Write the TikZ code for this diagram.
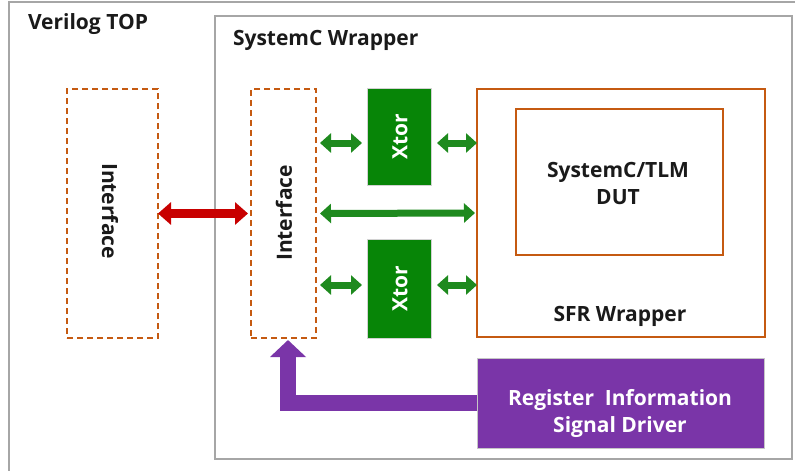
\documentclass[tikz,border=0pt]{standalone}
\usepackage{fontspec}
\setmainfont{Open Sans}
\usetikzlibrary{arrows.meta}
\definecolor{gframe}{HTML}{A6A6A6}
\definecolor{rust}{HTML}{C55A11}
\definecolor{xgreen}{HTML}{078507}
\definecolor{agreen}{HTML}{1E8A1E}
\definecolor{ared}{HTML}{C80000}
\definecolor{purp}{HTML}{7A35A8}
\definecolor{ink}{HTML}{1A1A1A}
\begin{document}
\begin{tikzpicture}[x=1pt,y=-1pt,
  every node/.style={font=\fontsize{21}{27}\selectfont\bfseries, text=ink, inner sep=0pt, outer sep=0pt},
  frame/.style={draw=gframe, line width=2pt, rectangle},
  dashbox/.style={draw=rust, line width=1.6pt, dash pattern=on 6pt off 4pt, rectangle},
  rustbox/.style={draw=rust, line width=1.8pt, rectangle},
  xtorbox/.style={fill=xgreen, draw=gray!35, line width=1pt, rectangle},
  regbox/.style={fill=purp, draw=gray!45, line width=1pt, rectangle},
  wtext/.style={text=white},
  garr/.style={draw=agreen, line width=7pt, {Triangle[width=19pt,length=11pt]}-{Triangle[width=19pt,length=11pt]}},
  rarr/.style={draw=ared, line width=9pt, {Triangle[width=22pt,length=13pt]}-{Triangle[width=22pt,length=13pt]}},
  parr/.style={draw=purp, line width=16pt, line join=miter, -{Triangle[width=35pt,length=17pt]}}
]
\useasboundingbox (0,0) rectangle (795,471);
\clip (0,0) rectangle (795,471);
\fill[white] (0,0) rectangle (795,471);

% frames
\node[frame, minimum width=796pt, minimum height=483pt] (top) at (407,243.5) {};
\node[anchor=west] (toplbl) at (28,24) {Verilog TOP};
\node[frame, minimum width=577pt, minimum height=443pt] (scw) at (503.5,237.5) {};
\node[anchor=west] (scwlbl) at (233,40) {SystemC Wrapper};

% interfaces
\node[dashbox, minimum width=91pt, minimum height=249pt] (lif) at (112.5,213.5) {};
\node[rotate=-90] (liftxt) at (110,211) {Interface};
\node[dashbox, minimum width=65pt, minimum height=249pt] (rif) at (283.5,213.5) {};
\node[rotate=90] (riftxt) at (284,213) {Interface};

% xtors
\node[xtorbox, minimum width=64pt, minimum height=97pt] (xt1) at (399,136.5) {};
\node[wtext, rotate=90] (xt1txt) at (400,137) {Xtor};
\node[xtorbox, minimum width=64pt, minimum height=99pt] (xt2) at (399,288.5) {};
\node[wtext, rotate=90] (xt2txt) at (400,289) {Xtor};

% SFR wrapper and DUT
\node[rustbox, minimum width=288pt, minimum height=248pt] (sfr) at (621,213) {};
\node (sfrtxt) at (620,316) {SFR Wrapper};
\node[rustbox, line width=1.5pt, minimum width=207pt, minimum height=146pt] (dut) at (619.5,182) {};
\node[align=center] (duttxt) at (618,183) {SystemC/TLM\\DUT};

% register driver
\node[regbox, minimum width=287pt, minimum height=90pt] (reg) at (620.5,403) {};
\node[wtext, align=center] (regtxt) at (620,413) {Register~ Information\\Signal Driver};

% connectors
\draw[rarr, shorten <=0pt, shorten >=3pt] (lif.east) -- (rif.west);
\draw[garr, shorten <=4pt, shorten >=5pt] ([yshift=-6.5pt]rif.east |- xt1.west) -- ([yshift=-6.5pt]xt1.west);
\draw[garr, shorten <=6pt] ([yshift=-6.5pt]xt1.east) -- ([yshift=-6.5pt]xt1.east -| sfr.west);
\draw[garr, shorten <=4pt, shorten >=2pt] (rif.east) -- (sfr.west);
\draw[garr, shorten <=4pt, shorten >=5pt] ([yshift=3.5pt]rif.east |- xt2.west) -- ([yshift=3.5pt]xt2.west);
\draw[garr, shorten <=6pt] ([yshift=3.5pt]xt2.east) -- ([yshift=3.5pt]xt2.east -| sfr.west);
\draw[parr, shorten >=2pt] (reg.west) -| ([xshift=4.5pt]rif.south);
\end{tikzpicture}
\end{document}
